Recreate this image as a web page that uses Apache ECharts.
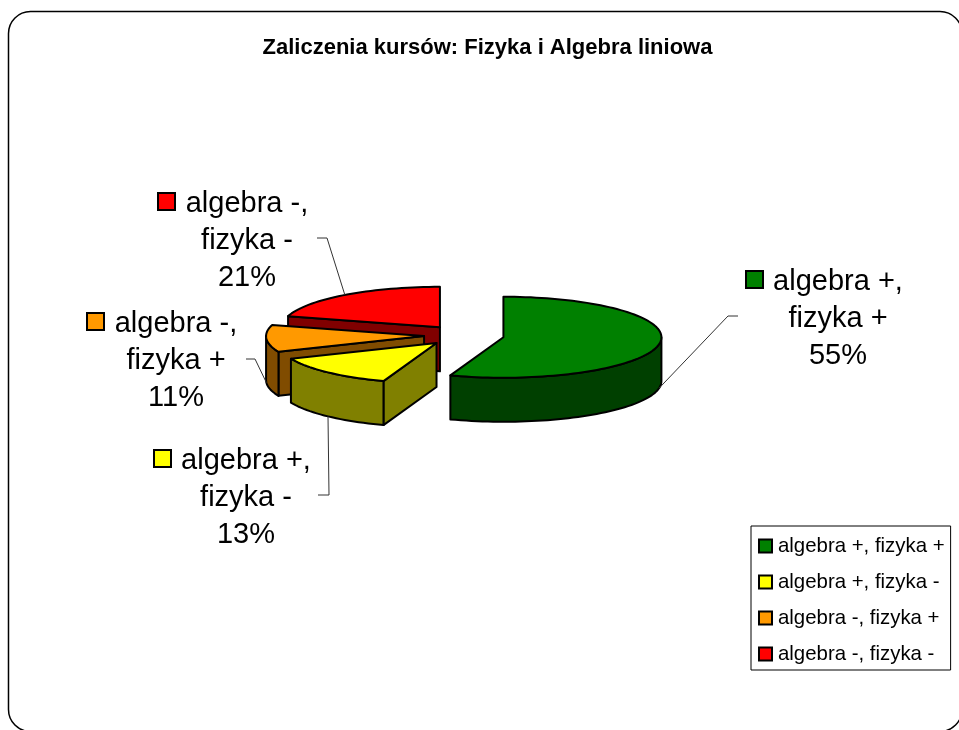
<!DOCTYPE html>
<html>
<head>
<meta charset="utf-8">
<style>html,body{margin:0;padding:0;background:#fff}#c{width:959px;height:730px}</style>
<script src="https://cdn.jsdelivr.net/npm/echarts@6/dist/echarts.min.js"></script>
</head>
<body>
<div id="c"></div>
<script>
var titleText = 'Zaliczenia kursów: Fizyka i Algebra liniowa';
var labelLine1 = ['algebra +,', 'algebra +,', 'algebra -,', 'algebra -,'];
var labelLine2 = ['fizyka +', 'fizyka -', 'fizyka +', 'fizyka -'];
var categories = ['algebra +, fizyka +', 'algebra +, fizyka -', 'algebra -, fizyka +', 'algebra -, fizyka -'];
var values = [55.45, 13.2, 10.8, 20.55];

var topColors = ['#008000', '#FFFF00', '#FF9900', '#FF0000'];
var sideColors = ['#004000', '#808000', '#804C00', '#800000'];
var FONT = '"Liberation Sans", Arial, sans-serif';

// 3D pie projection
var pie = { cx: 464, cy: 335.5, rx: 158, ry: 40.5, depth: 44, explode: 40 };
// Label placement: text centre, key left edge, leader knee and leader end
var labelLayout = [
  { x: 838, y: 319, keyX: 745, knee: [728, 316], end: [738, 316] },
  { x: 246, y: 498, keyX: 153, knee: [329, 495], end: [318, 495] },
  { x: 176, y: 361, keyX: 86,  knee: [255, 359], end: [246, 359] },
  { x: 247, y: 241, keyX: 157, knee: [327, 238], end: [317, 238] }
];

var total = values.reduce(function (a, b) { return a + b; }, 0);
var rad = Math.PI / 180;

function startAngle(i) {
  var s = 0;
  for (var k = 0; k < i; k++) s += values[k];
  return s / total * 360;
}
function proj(c, a) {
  return [c[0] + pie.rx * Math.sin(a * rad), c[1] - pie.ry * Math.cos(a * rad)];
}
function down(p) { return [p[0], p[1] + pie.depth]; }
function arc(c, a, b) {
  var pts = [], n = Math.max(2, Math.ceil((b - a) / 2));
  for (var k = 0; k <= n; k++) pts.push(proj(c, a + (b - a) * k / n));
  return pts;
}
function face(points, fill) {
  return {
    type: 'polygon',
    shape: { points: points },
    style: { fill: fill, stroke: '#000', lineWidth: 2, lineJoin: 'round' }
  };
}

function renderSlice(i) {
  return function (params, api) {
    var value = api.value(0);
    var a = startAngle(i), b = a + value / total * 360, mid = (a + b) / 2;
    var c = [
      pie.cx + pie.explode * Math.sin(mid * rad),
      pie.cy - pie.explode * (pie.ry / pie.rx) * Math.cos(mid * rad)
    ];
    var children = [];

    // cut faces turned towards the viewer
    if (Math.sin(a * rad) < -1e-6) {
      var p = proj(c, a);
      children.push(face([c, p, down(p), down(c)], sideColors[i]));
    }
    if (Math.sin(b * rad) > 1e-6) {
      var q = proj(c, b);
      children.push(face([c, q, down(q), down(c)], sideColors[i]));
    }
    // outer wall on the front half
    var w0 = Math.max(a, 90), w1 = Math.min(b, 270);
    if (w1 > w0) {
      var rim = arc(c, w0, w1);
      children.push(face(rim.concat(rim.map(down).reverse()), sideColors[i]));
    }
    // top
    children.push(face([c].concat(arc(c, a, b)), topColors[i]));

    // leader line
    var L = labelLayout[i];
    var anchor = proj(c, mid);
    if (Math.cos(mid * rad) < 0 ) anchor = down(anchor);
    children.push({
      type: 'polyline',
      shape: { points: [anchor, L.knee, L.end] },
      style: { fill: 'none', stroke: '#333', lineWidth: 1 }
    });
    // label
    children.push({
      type: 'rect',
      shape: { x: L.keyX + 1, y: L.y - 48, width: 17, height: 17 },
      style: { fill: topColors[i], stroke: '#000', lineWidth: 2 }
    });
    children.push({
      type: 'text',
      x: L.x, y: L.y,
      style: {
        text: labelLine1[i] + '\n' + labelLine2[i] + '\n' + Math.round(value / total * 100) + '%',
        fill: '#000',
        fontFamily: FONT, fontSize: 29, lineHeight: 37,
        align: 'center', verticalAlign: 'middle'
      }
    });
    return { type: 'group', children: children };
  };
}

var chart = echarts.init(document.getElementById('c'), null, { renderer: 'canvas' });
chart.setOption({
  animation: false,
  backgroundColor: '#fff',
  graphic: [{
    type: 'rect',
    z: 0,
    shape: { x: 8.5, y: 11.5, width: 953.5, height: 720, r: 22 },
    style: { fill: '#fff', stroke: '#000', lineWidth: 1.5 }
  }],
  title: {
    text: titleText,
    left: 482.5, top: 32,
    textAlign: 'center',
    textStyle: { fontFamily: FONT, fontWeight: 'bold', fontSize: 22, color: '#000' }
  },
  legend: {
    left: 751, top: 526, orient: 'vertical',
    width: 199,
    padding: [10, 6, 6, 7],
    itemWidth: 13, itemHeight: 13, itemGap: 16,
    icon: 'rect',
    selectedMode: false,
    backgroundColor: '#fff',
    borderColor: '#000', borderWidth: 1,
    textStyle: { fontFamily: FONT, fontSize: 20.4, color: '#000', padding: [0, 0, 0, 1] },
    data: categories.map(function (n, i) {
      return { name: n, itemStyle: { color: topColors[i], borderColor: '#000', borderWidth: 2 } };
    })
  },
  series: categories.map(function (n, i) {
    return {
      type: 'custom',
      name: n,
      coordinateSystem: 'none',
      z: 5 - i,
      itemStyle: { color: topColors[i] },
      renderItem: renderSlice(i),
      data: [[values[i]]],
      silent: true
    };
  })
});
</script>
</body>
</html>
